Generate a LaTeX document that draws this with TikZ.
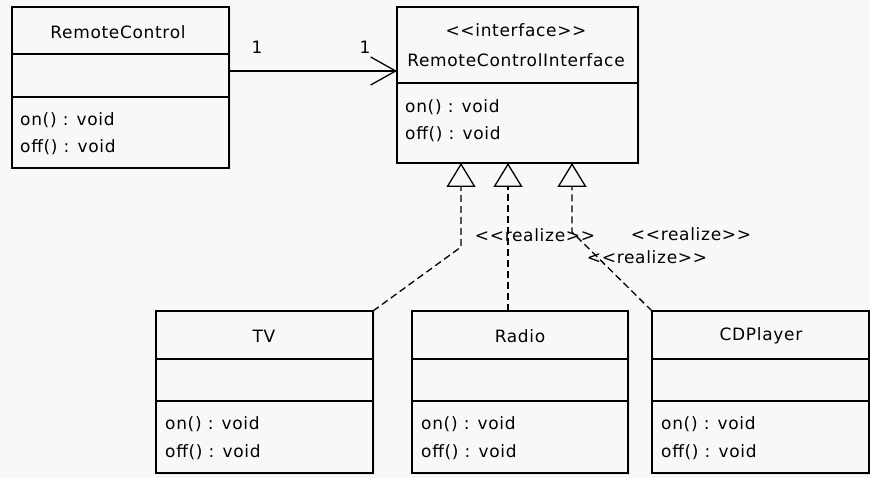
\documentclass[tikz,border=0pt]{standalone}
\usepackage{fontspec}
\newfontfamily\umlfont{DejaVu Sans}[Ligatures=TeXOff, LetterSpace=4]
\usetikzlibrary{arrows.meta,shadows}
\definecolor{bgc}{HTML}{F8F8F8}
\begin{document}
\begin{tikzpicture}[x=1pt,y=-1pt,
  cls/.style={draw=black, line width=1.3pt, fill=bgc, anchor=north west, inner sep=0pt, outer sep=0pt,
    drop shadow={opacity=0.15,shadow xshift=1.5pt,shadow yshift=-1.5pt}},
  lbl/.style={inner sep=0pt, text=black, font=\umlfont\fontsize{17}{19}\selectfont},
  mem/.style={lbl, anchor=west},
  div/.style={line width=1.3pt},
  assoc/.style={line width=1.3pt, -{Straight Barb[length=25pt,width=28pt,line width=1.3pt]}},
  real/.style={line width=1.3pt, dash pattern=on 7pt off 4pt,
    -{Triangle[open,length=24pt,width=29pt,line width=1.3pt]}}
]
\fill[bgc] (0,0) rectangle (870,478);
\useasboundingbox (0,0) rectangle (870,478);

% class boxes
\node[cls, minimum width=217pt, minimum height=161pt] (rc) at (12,7) {};
\node[cls, minimum width=241pt, minimum height=156pt] (rci) at (397,7) {};
\node[cls, minimum width=217pt, minimum height=162pt] (tv) at (156,311) {};
\node[cls, minimum width=216pt, minimum height=162pt] (radio) at (412,311) {};
\node[cls, minimum width=217pt, minimum height=162pt] (cd) at (652,311) {};

% dividers
\coordinate (d1) at (0,54);  \coordinate (d2) at (0,97);
\draw[div] (rc.west |- d1) -- (rc.east |- d1);
\draw[div] (rc.west |- d2) -- (rc.east |- d2);
\coordinate (d3) at (0,83);
\draw[div] (rci.west |- d3) -- (rci.east |- d3);
\coordinate (d4) at (0,359); \coordinate (d5) at (0,401);
\foreach \b in {tv,radio,cd}{
  \draw[div] (\b.west |- d4) -- (\b.east |- d4);
  \draw[div] (\b.west |- d5) -- (\b.east |- d5);
}

% texts
\node[lbl] (rcname) at (118,32) {RemoteControl};
\node[mem] (rcon) at (20,120) {on() : void};
\node[mem] (rcoff) at (20,147) {off() : void};

\node[lbl] (rcister) at (516,30) {<<interface>>};
\node[lbl] (rciname) at (516,60) {RemoteControlInterface};
\node[mem] (rcion) at (405,107) {on() : void};
\node[mem] (rcioff) at (405,134) {off() : void};

\node[lbl] (tvname) at (264,336) {TV};
\node[mem] (tvon) at (165,424) {on() : void};
\node[mem] (tvoff) at (165,452) {off() : void};

\node[lbl] (radioname) at (520,336) {Radio};
\node[mem] (radioon) at (421,424) {on() : void};
\node[mem] (radiooff) at (421,452) {off() : void};

\node[lbl] (cdname) at (761,336) {CDPlayer};
\node[mem] (cdon) at (661,424) {on() : void};
\node[mem] (cdoff) at (661,452) {off() : void};

% association
\coordinate (as) at (0,71);
\draw[assoc] (rc.east |- as) -- (rci.west |- as);
\node[lbl] (m1) at (257,47) {1};
\node[lbl] (m2) at (365,47) {1};

% realizations
\coordinate (t1) at (461,163); \coordinate (b1) at (461,247);
\draw[real] (tv.north east) -- (b1) -- (t1);
\coordinate (t2) at (508,163);
\draw[real] (radio.north -| t2) -- (t2);
\coordinate (t3) at (572,163); \coordinate (b3) at (572,232);
\draw[real] (cd.north west) -- (b3) -- (t3);

\node[lbl] (r1) at (535,235) {<<realize>>};
\node[lbl] (r2) at (691,234) {<<realize>>};
\node[lbl] (r3) at (647,257) {<<realize>>};
\end{tikzpicture}
\end{document}
